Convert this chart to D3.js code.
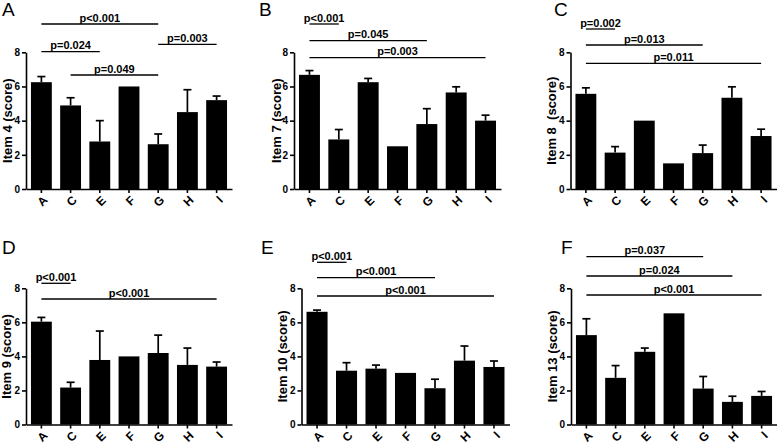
<!DOCTYPE html>
<html>
<head>
<meta charset="utf-8">
<script src="https://cdn.jsdelivr.net/npm/d3@7"></script>
<style>
  body { margin: 0; background: #fff; }
  text { font-family: Arial, "Liberation Sans", sans-serif; fill: #000; }
</style>
</head>
<body>
<script>
// groups on the x axis, same for every panel
const groups = ["A", "C", "E", "F", "G", "H", "I"];
const yTicks = [0, 2, 4, 6, 8];

// means and SEM (upper error bar)
const item4Mean = [6.25, 4.89, 2.78, 6.0, 2.62, 4.5, 5.2];
const item4Sem = [0.33, 0.45, 1.22, 0, 0.6, 1.31, 0.24];
const item7Mean = [6.68, 2.9, 6.25, 2.5, 3.8, 5.65, 4.0];
const item7Sem = [0.25, 0.58, 0.22, 0, 0.9, 0.33, 0.32];
const item8Mean = [5.57, 2.13, 4.0, 1.5, 2.1, 5.34, 3.1];
const item8Sem = [0.35, 0.35, 0, 0, 0.47, 0.64, 0.4];
const item9Mean = [6.04, 2.17, 3.79, 4.0, 4.2, 3.5, 3.4];
const item9Sem = [0.25, 0.31, 1.7, 0, 1.05, 0.99, 0.27];
const item10Mean = [6.62, 3.16, 3.28, 3.03, 2.13, 3.75, 3.38];
const item10Sem = [0.1, 0.47, 0.21, 0, 0.53, 0.86, 0.35];
const item13Mean = [5.25, 2.74, 4.27, 6.53, 2.11, 1.33, 1.68];
const item13Sem = [0.96, 0.72, 0.22, 0, 0.71, 0.33, 0.26];

// comparisons: [from, to, label]
const item4Comp = [["A", "G", "p<0.001"], ["A", "E", "p=0.024"], ["C", "G", "p=0.049"], ["G", "I", "p=0.003"]];
const item7Comp = [["A", "C", "p<0.001"], ["A", "G", "p=0.045"], ["A", "I", "p=0.003"]];
const item8Comp = [["A", "C", "p=0.002"], ["A", "G", "p=0.013"], ["A", "I", "p=0.011"]];
const item9Comp = [["A", "C", "p<0.001"], ["A", "I", "p<0.001"]];
const item10Comp = [["A", "C", "p<0.001"], ["A", "G", "p<0.001"], ["A", "I", "p<0.001"]];
const item13Comp = [["A", "G", "p=0.037"], ["A", "H", "p=0.024"], ["A", "I", "p<0.001"]];

// panel layout (pixels)
const panels = [
  { letter: "A", label: "Item 4 (score)", mean: item4Mean, sem: item4Sem, comp: item4Comp,
    x0: 26, x1: 232, yTop: 52.3, yBot: 189, labelX: 12, letterX: 2, letterY: 16, compY: [24, 51.7, 75, 44.3] },
  { letter: "B", label: "Item 7 (score)", mean: item7Mean, sem: item7Sem, comp: item7Comp,
    x0: 294, x1: 501, yTop: 52.3, yBot: 189, labelX: 281, letterX: 259, letterY: 16, compY: [24, 40.7, 57.7] },
  { letter: "C", label: "Item 8  (score)", mean: item8Mean, sem: item8Sem, comp: item8Comp,
    x0: 570.5, x1: 776.5, yTop: 52.3, yBot: 189, labelX: 556, letterX: 554, letterY: 16, compY: [29, 45, 63.3] },
  { letter: "D", label: "Item 9 (score)", mean: item9Mean, sem: item9Sem, comp: item9Comp,
    x0: 26, x1: 232, yTop: 288.3, yBot: 424.5, labelX: 11, letterX: 2, letterY: 254, compY: [283.3, 299] },
  { letter: "E", label: "Item 10 (score)", mean: item10Mean, sem: item10Sem, comp: item10Comp,
    x0: 301.5, x1: 509.5, yTop: 288.3, yBot: 424.5, labelX: 287, letterX: 261, letterY: 254, compY: [262.3, 277.7, 296] },
  { letter: "F", label: "Item 13 (score)", mean: item13Mean, sem: item13Sem, comp: item13Comp,
    x0: 571, x1: 777, yTop: 288.3, yBot: 424.5, labelX: 557, letterX: 561, letterY: 254, compY: [256.7, 276, 295] }
];

const svg = d3.select("body")
  .append("svg")
  .attr("width", 777)
  .attr("height", 445);

panels.forEach(function (p) {
  const g = svg.append("g");

  const x = d3.scaleBand()
    .domain(groups)
    .range([p.x0, p.x1])
    .paddingInner(0.286)
    .paddingOuter(0.17);

  const y = d3.scaleLinear()
    .domain([0, 8])
    .range([p.yBot, p.yTop]);

  const rows = groups.map(function (k, i) {
    return { k: k, m: p.mean[i], s: p.sem[i] };
  });

  // bars
  g.selectAll(".bar")
    .data(rows)
    .enter()
    .append("rect")
    .attr("x", d => x(d.k))
    .attr("y", d => y(d.m))
    .attr("width", x.bandwidth())
    .attr("height", d => y(0) - y(d.m))
    .attr("fill", "#000");

  // error bars (upper only)
  const eb = g.selectAll(".err")
    .data(rows.filter(d => d.s > 0))
    .enter()
    .append("g");
  eb.append("line")
    .attr("x1", d => x(d.k) + x.bandwidth() / 2)
    .attr("x2", d => x(d.k) + x.bandwidth() / 2)
    .attr("y1", d => y(d.m))
    .attr("y2", d => y(d.m + d.s))
    .attr("stroke", "#000")
    .attr("stroke-width", 1.7);
  eb.append("line")
    .attr("x1", d => x(d.k) + x.bandwidth() / 2 - 4)
    .attr("x2", d => x(d.k) + x.bandwidth() / 2 + 4)
    .attr("y1", d => y(d.m + d.s))
    .attr("y2", d => y(d.m + d.s))
    .attr("stroke", "#000")
    .attr("stroke-width", 1.7);

  // y axis
  const ya = g.append("g")
    .attr("transform", "translate(" + p.x0 + ",0)")
    .call(d3.axisLeft(y).tickValues(yTicks).tickSize(4).tickSizeOuter(0).tickPadding(2));
  ya.selectAll("text")
    .style("font-size", "10px")
    .style("font-weight", "bold")
    .style("font-family", "Arial, 'Liberation Sans', sans-serif");

  // x axis, labels turned 45 degrees
  const xa = g.append("g")
    .attr("transform", "translate(0," + p.yBot + ")")
    .call(d3.axisBottom(x).tickSize(4).tickSizeOuter(0));
  xa.selectAll("text")
    .attr("text-anchor", "end")
    .attr("x", 0)
    .attr("y", 0)
    .attr("dy", "0.35em")
    .attr("transform", "translate(4,9) rotate(-45)")
    .style("font-size", "12px")
    .style("font-weight", "bold")
    .style("font-family", "Arial, 'Liberation Sans', sans-serif");

  g.selectAll(".domain, .tick line")
    .attr("stroke", "#000")
    .attr("stroke-width", 1.6);

  // y label
  g.append("text")
    .attr("transform", "translate(" + p.labelX + "," + (p.yTop + p.yBot) / 2 + ") rotate(-90)")
    .attr("text-anchor", "middle")
    .style("font-size", "13px")
    .style("font-weight", "bold")
    .style("white-space", "pre")
    .attr("xml:space", "preserve")
    .text(p.label);

  // panel letter
  g.append("text")
    .attr("x", p.letterX)
    .attr("y", p.letterY)
    .style("font-size", "19px")
    .text(p.letter);

  // significance lines
  p.comp.forEach(function (c, i) {
    const xa1 = x(c[0]) + x.bandwidth() / 2;
    const xa2 = x(c[1]) + x.bandwidth() / 2;
    const ly = p.compY[i];
    g.append("line")
      .attr("x1", xa1)
      .attr("x2", xa2)
      .attr("y1", ly)
      .attr("y2", ly)
      .attr("stroke", "#000")
      .attr("stroke-width", 1.3);
    g.append("text")
      .attr("x", (xa1 + xa2) / 2)
      .attr("y", ly - 2.5)
      .attr("text-anchor", "middle")
      .style("font-size", "11px")
      .style("font-weight", "bold")
      .text(c[2]);
  });
});
</script>
</body>
</html>
